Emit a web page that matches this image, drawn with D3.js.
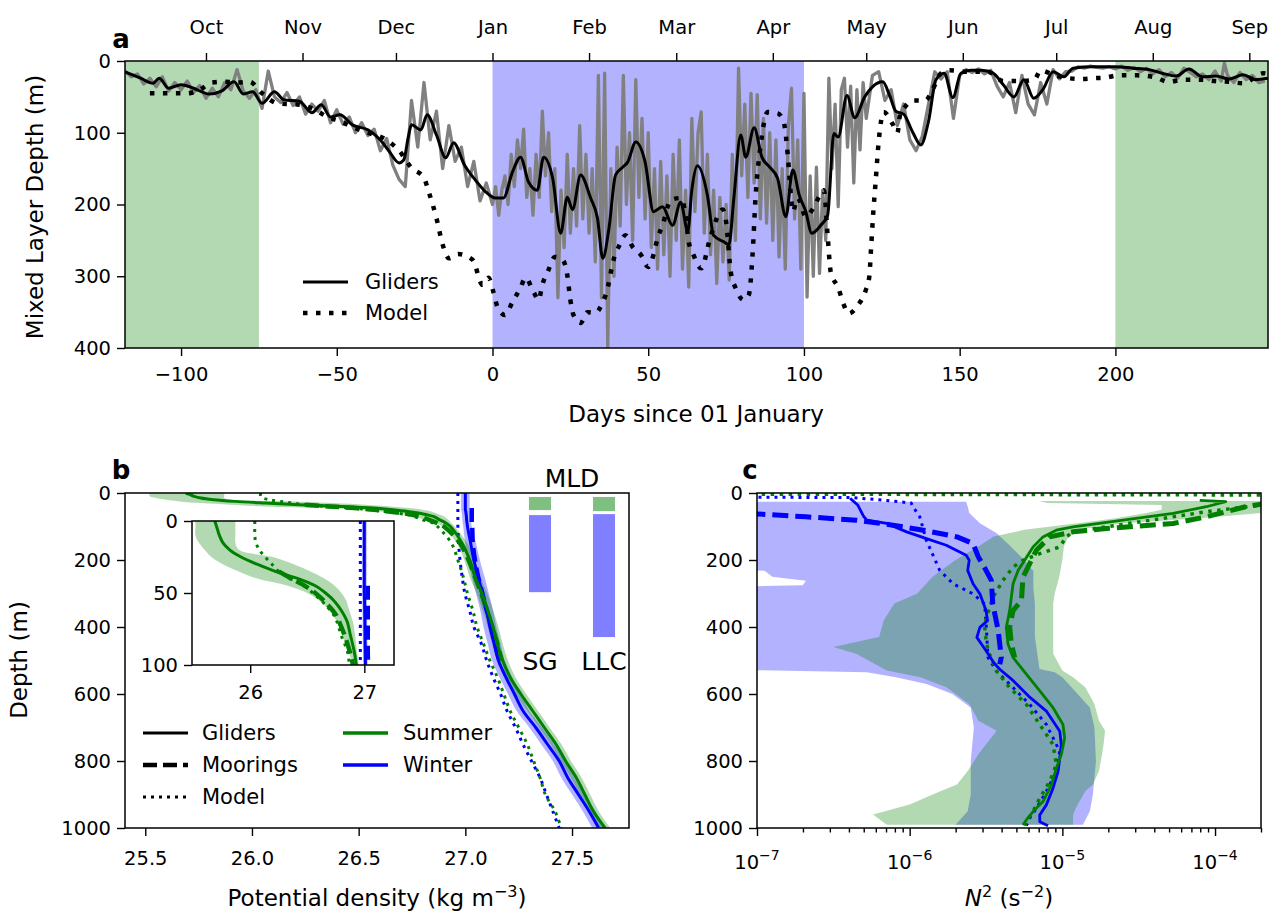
<!DOCTYPE html>
<html><head><meta charset="utf-8">
<script src="https://cdn.jsdelivr.net/npm/d3@7/dist/d3.min.js"></script>
<style>body{margin:0;background:#fff;} text{font-family:"DejaVu Sans",sans-serif;}</style>
</head><body>
<script>
// ---------------- DATA ----------------
// Panel a: mixed layer depth (m) vs days since 01 January
const monthDays = [-92,-61,-31,0,31,59,90,120,151,181,212,243];
const monthLabels = ['Oct','Nov','Dec','Jan','Feb','Mar','Apr','May','Jun','Jul','Aug','Sep'];
const summerSpans = [[-118,-75],[200,249]];
const winterSpans = [[0,100]];
const gliderRaw = [[-118,14],[-116,22],[-114,18],[-112,32],[-110,24],[-108,36],[-106,22],[-104,42],[-102,30],[-100,40],[-98,28],[-96,44],[-94,34],[-92,52],[-90,38],[-88,50],[-86,30],[-84,40],[-82,12],[-80,42],[-78,52],[-76,40],[-74,66],[-72,14],[-70,50],[-68,58],[-66,44],[-64,62],[-62,50],[-60,74],[-58,60],[-56,70],[-54,55],[-52,86],[-50,68],[-48,88],[-46,78],[-44,100],[-42,86],[-40,104],[-38,95],[-36,125],[-34,108],[-32,145],[-30,165],[-28,175],[-26,55],[-24,120],[-22,30],[-20,110],[-18,70],[-16,150],[-14,90],[-12,140],[-10,120],[-8,175],[-6,140],[-4,195],[-2,170],
[0,200],[1,175],[2,215],[3,180],[4,160],[5,200],[6,130],[7,175],[8,110],[9,150],[10,95],[11,190],[12,150],[13,215],[14,130],[15,190],[16,70],[17,160],[18,100],[19,210],[20,150],[21,330],[22,180],[23,260],[24,130],[25,240],[26,150],[27,230],[28,90],[29,220],[30,130],[31,240],[32,150],[33,280],[34,20],[35,330],[36,17],[37,398],[38,150],[39,300],[40,120],[41,230],[42,20],[43,200],[44,100],[45,250],[46,26],[47,190],[48,80],[49,220],[50,100],[51,260],[52,150],[53,290],[54,140],[55,270],[56,160],[57,300],[58,130],[59,250],[60,110],[61,290],[62,180],[63,315],[64,80],[65,210],[66,100],[67,71],[68,240],[69,130],[70,270],[71,180],[72,310],[73,190],[74,280],[75,200],[76,305],[77,130],[78,250],[79,10],[80,160],[81,60],[82,190],[83,45],[84,170],[85,47],[86,220],[87,80],[88,226],[89,100],[90,250],[91,110],[92,273],[93,150],[94,290],[95,90],[96,38],[97,220],[98,110],[99,290],[100,45],[101,329],[102,160],[103,300],[104,148],[105,296],[106,180],[107,250],[108,24],[109,150],[110,60],[111,203],[112,40],[113,24],[114,120],[115,35],[116,170],[117,40],[118,124],[119,30],[120,80],
[122,20],[124,15],[126,55],[128,40],[130,90],[132,60],[134,110],[136,125],[138,105],[140,60],[142,15],[144,25],[146,15],[148,80],[150,20],[152,12],[154,16],[156,11],[158,18],[160,13],[162,35],[164,50],[166,30],[168,72],[170,20],[172,60],[174,75],[176,30],[178,60],[180,12],[182,25],[184,15],[186,14],[188,8],[190,10],[192,7],[194,9],[196,10],[198,8],[200,11],[202,7],[204,13],[206,9],[208,15],[210,10],[212,18],[214,12],[216,22],[218,16],[220,24],[222,10],[224,16],[226,22],[228,18],[230,26],[232,14],[234,28],[235,3],[236,20],[238,30],[240,16],[242,26],[244,20],[246,30],[248,28]];
const gliderSmooth = [[-118,15],[-113,24],[-109,31],[-107,24],[-104,38],[-100,33],[-96,38],[-91,46],[-87,42],[-83,29],[-80,46],[-77,43],[-74,59],[-70,43],[-67,54],[-62,56],[-58,72],[-55,61],[-52,78],[-49,75],[-45,89],[-40,96],[-36,110],[-33,127],[-30,142],[-28.5,138],[-27,105],[-26,89],[-23,96],[-21,75],[-18,103],[-15,135],[-12.5,114],[-9,145],[-5.5,166],[-2.3,182],[1,191],[3.5,191],[6.4,155],[9,134],[11.6,169],[14.4,180],[16.4,134],[19.3,163],[21.9,240],[24,190],[25.7,207],[28.3,159],[31.5,191],[33.7,219],[35.4,275],[37.4,233],[39.5,159],[41.8,148],[43.4,141],[46,113],[49,141],[51.7,210],[54.6,203],[57.8,229],[60.4,197],[62.7,237],[64,180],[65.8,146],[69,187],[71,243],[74.3,252],[75.9,256],[77.5,191],[79.7,103],[81.3,134],[84,93],[86.5,134],[89,148],[91.5,163],[94.2,217],[96.4,152],[98.5,187],[100.6,210],[102.5,240],[105.4,229],[107.6,215],[109.6,101],[111,106],[113.8,48],[116.3,79],[119.5,50],[122,36],[125.3,29],[127.5,48],[129.5,70],[132,74],[135,100],[137.5,117],[140,84],[142.4,26],[145,17],[147.8,51],[150.4,17],[153.6,13],[157,13],[160.7,17],[164,33],[167.4,50],[170.6,26],[173.8,52],[176.7,40],[180,15],[183.5,22],[186.4,10],[192.8,8],[200,8],[205.6,10],[210.8,12],[215,17],[219.5,21],[223.6,11],[228,22],[232.3,21],[236.5,25],[241,19],[245,26],[249,24]];
const modelMLD = [[-110,45],[-104,45],[-98,45],[-94,40],[-90,30],[-86,29],[-82,30],[-78,29],[-74,45],[-69,59],[-62,61],[-57,68],[-53,78],[-49,84],[-45,92],[-40,100],[-34,110],[-30,125],[-26,149],[-22,163],[-20.5,182],[-18,219],[-16,256],[-14,275],[-11,269],[-6.4,277],[-3.2,312],[-1.3,302],[0.3,322],[1.6,343],[4,354],[6.4,336],[9,316],[10.6,302],[13.2,322],[14.8,333],[16,312],[18,291],[20,273],[22.5,277],[24,298],[25,333],[26,354],[28.3,365],[30.5,350],[33,351],[35.3,337],[37,316],[38,294],[39,275],[40.5,259],[42.7,243],[45,259],[47.6,270],[50,287],[51.7,270],[53,247],[54.6,229],[57.2,194],[60.4,191],[62,215],[63,252],[64.5,270],[67,289],[70,245],[73.9,207],[75,224],[76.5,294],[78,316],[80.7,333],[82.3,326],[83.5,270],[84.5,187],[86,121],[88.4,71],[91.6,73],[93.5,85],[94.8,131],[95.8,187],[96.4,210],[98,191],[100.6,217],[103,205],[105.4,185],[106.4,180],[107.6,243],[108.6,294],[111,316],[112.8,340],[114.4,352],[117.4,340],[119.8,320],[121,300],[121.5,265],[122.2,215],[123,169],[124,112],[125.6,71],[128.5,88],[130,100],[131,71],[132,66],[135,55],[139,55],[141.3,40],[144,17],[146.5,13],[152.5,15],[159,15],[164,28],[169.7,28],[174,26],[176,13],[180.5,20],[185,24],[189,25],[193,24],[197,23],[201,20],[207,20],[213,23],[217,29],[222,26],[228,26],[232,28],[236.5,29],[241,31],[247.5,17],[249,18]];

// Panel b: potential density (kg m-3) profiles vs depth (m)
const bDepth = [0,5,10,15,20,25,30,35,40,45,50,55,60,65,70,80,90,100,150,200,250,300,350,400,450,500,550,600,650,700,750,800,850,900,950,1000];
const summerGlider = [25.69,25.71,25.73,25.76,25.82,25.92,26.06,26.22,26.42,26.57,26.66,26.73,26.78,26.82,26.85,26.88,26.91,26.93,26.985,27.02,27.045,27.078,27.105,27.13,27.15,27.175,27.21,27.26,27.315,27.37,27.425,27.47,27.52,27.56,27.60,27.655];
const summerLo = [25.52,25.52,25.52,25.55,25.60,25.66,25.76,25.90,26.06,26.33,26.50,26.60,26.67,26.72,26.76,26.81,26.86,26.895,26.96,26.995,27.02,27.053,27.08,27.105,27.125,27.15,27.185,27.235,27.29,27.345,27.40,27.445,27.495,27.535,27.575,27.63];
const summerHi = [25.87,25.87,25.87,25.87,25.90,26.20,26.38,26.53,26.65,26.74,26.80,26.84,26.86,26.88,26.90,26.92,26.935,26.95,27.01,27.045,27.07,27.103,27.13,27.155,27.175,27.20,27.235,27.285,27.34,27.395,27.45,27.495,27.545,27.585,27.625,27.68];
const summerModel = [26.04,26.04,26.04,26.05,26.08,26.13,26.19,26.25,26.35,26.47,26.55,26.62,26.68,26.73,26.76,26.80,26.85,26.87,26.935,26.965,26.99,27.01,27.035,27.055,27.085,27.115,27.15,27.18,27.21,27.25,27.29,27.32,27.35,27.375,27.42,27.45];
const winterGlider = [27.0,27.0,27.0,27.0,27.0,27.0,27.0,27.0,27.0,27.0,27.0,27.002,27.003,27.004,27.005,27.006,27.008,27.01,27.025,27.04,27.06,27.08,27.10,27.115,27.135,27.155,27.19,27.23,27.27,27.33,27.385,27.44,27.48,27.53,27.58,27.625];
const winterLo = [26.98,26.98,26.98,26.98,26.98,26.98,26.98,26.98,26.98,26.98,26.98,26.982,26.983,26.984,26.985,26.986,26.988,26.99,27.0,27.012,27.03,27.05,27.07,27.085,27.105,27.125,27.16,27.20,27.24,27.30,27.355,27.41,27.45,27.50,27.55,27.595];
const winterHi = [27.02,27.02,27.02,27.02,27.02,27.02,27.02,27.02,27.02,27.02,27.02,27.022,27.023,27.024,27.025,27.026,27.028,27.03,27.05,27.068,27.09,27.11,27.13,27.145,27.165,27.185,27.22,27.26,27.30,27.36,27.415,27.47,27.51,27.56,27.61,27.655];
const winterModel = [26.965,26.965,26.965,26.965,26.965,26.965,26.965,26.965,26.965,26.965,26.965,26.965,26.965,26.965,26.965,26.965,26.965,26.965,26.968,26.975,26.985,26.998,27.02,27.04,27.075,27.10,27.13,27.165,27.195,27.235,27.27,27.31,27.35,27.38,27.41,27.44];
const summerMooringDepth = [35,40,45,50,55,60,65,70,80,90,100,150,200,250,300,350,400,450,500];
const summerMooring = [26.25,26.36,26.48,26.57,26.64,26.70,26.75,26.78,26.83,26.87,26.90,26.975,27.015,27.045,27.075,27.10,27.125,27.15,27.17];
const winterMooringDepth = [45,50,55,60,65,70,80,90,100,150,200,250,300,350,400,450,500];
const winterMooring = [27.03,27.03,27.03,27.03,27.03,27.03,27.03,27.03,27.032,27.035,27.045,27.06,27.08,27.10,27.125,27.14,27.16];
// MLD bars (depth range, m)
const mldSites = ['SG','LLC'];
const mldSummer = [[12,51],[12,54]];
const mldWinter = [[66,296],[63,430]];

// Panel c: log10 N^2 (s^-2) profiles vs depth (m)
const cWGDepth = [16,36,71,81,91,116,136,156,186,201,231,271,301,351,381,401,431,471,506,526,561,611,651,711,751,791,831,881,931,961,981,993];
const cWG = [-6.39,-6.34,-6.30,-6.28,-6.15,-6.02,-5.89,-5.76,-5.63,-5.61,-5.62,-5.585,-5.54,-5.50,-5.49,-5.54,-5.56,-5.50,-5.45,-5.41,-5.32,-5.21,-5.105,-5.017,-5.007,-5.017,-5.028,-5.061,-5.105,-5.148,-5.148,-5.094];
const cWMDepth = [61,71,81,96,111,131,151,191,231,261,331,411,491,511];
const cWM = [-7.05,-6.68,-6.35,-6.11,-5.91,-5.69,-5.585,-5.55,-5.50,-5.465,-5.456,-5.42,-5.40,-5.41];
const cWLDepth = [12.5,13.5,20,30,41,71,141,231,271,301,331,401,491,531,581,631,691,771,831,891,941,971,993];
const cWL = [-7.2,-6.39,-6.2,-5.99,-5.978,-5.934,-5.891,-5.803,-5.716,-5.585,-5.509,-5.498,-5.487,-5.432,-5.323,-5.214,-5.105,-5.017,-5.039,-5.105,-5.17,-5.214,-5.236];
const cSGDepth = [22,26,41,61,81,101,111,131,161,201,231,271,311,351,401,451,491,541,591,641,691,731,781,821,871,921,951,976,991];
const cSG = [-4.1,-3.93,-4.057,-4.275,-4.603,-4.93,-5.04,-5.127,-5.192,-5.247,-5.29,-5.323,-5.334,-5.345,-5.367,-5.356,-5.323,-5.236,-5.148,-5.061,-4.996,-4.985,-5.007,-5.039,-5.072,-5.127,-5.192,-5.236,-5.258];
const cSMDepth = [30,41,71,91,106,116,131,171,211,251,321,351,401,451,491];
const cSM = [-3.65,-3.80,-4.057,-4.275,-4.71,-4.93,-5.083,-5.17,-5.214,-5.258,-5.268,-5.323,-5.345,-5.334,-5.312];
const cSLDepth = [3,6,31,46,56,71,101,116,131,161,181,201,221,261,311,371,411,471,531,581,631,691,751,811,861,911,951,981,993];
const cSL = [-7.5,-3.5,-3.6,-3.88,-4.057,-4.275,-4.71,-4.93,-4.974,-5.017,-5.148,-5.258,-5.323,-5.389,-5.454,-5.498,-5.509,-5.487,-5.432,-5.345,-5.236,-5.148,-5.061,-5.039,-5.083,-5.148,-5.192,-5.236,-5.247];
const cWBandDepth = [26,40,60,90,120,150,200,228,232,250,262,275,283,330,430,525,535,550,570,600,640,700,800,900,950,990];
const cWBandLo = [-7.5,-7.5,-7.5,-7.5,-7.5,-7.5,-7.5,-7.5,-6.95,-6.9,-6.68,-6.7,-7.5,-7.5,-7.5,-7.5,-6.28,-6.09,-5.89,-5.72,-5.6,-5.58,-5.6,-5.6,-5.62,-5.7];
const cWBandHi = [-5.63,-5.62,-5.61,-5.54,-5.43,-5.36,-5.25,-5.2,-5.19,-5.19,-5.19,-5.19,-5.19,-5.18,-5.18,-5.15,-5.05,-5.0,-4.96,-4.9,-4.82,-4.79,-4.78,-4.8,-4.82,-4.865];
const cSBandDepth = [24,30,36,50,60,75,90,110,130,160,200,250,300,330,380,430,460,480,530,550,580,630,680,710,750,780,830,870,890,930,960,990];
const cSBandLo = [-5.15,-5.1,-4.35,-4.35,-4.45,-4.65,-4.9,-5.25,-5.45,-5.55,-5.7,-5.85,-5.95,-6.1,-6.17,-6.2,-6.5,-6.35,-6.15,-5.93,-5.76,-5.61,-5.55,-5.43,-5.5,-5.55,-5.62,-5.69,-5.8,-6.0,-6.24,-6.15];
const cSBandHi = [-3.7,-3.66,-3.66,-3.66,-3.7,-4.1,-4.6,-4.9,-4.96,-4.99,-5.0,-5.02,-5.05,-5.06,-5.06,-5.06,-5.06,-5.06,-5.0,-4.93,-4.85,-4.79,-4.76,-4.72,-4.73,-4.74,-4.76,-4.8,-4.85,-4.9,-4.93,-4.93];

// ---------------- DRAWING ----------------
const FONT = 'DejaVu Sans';
const TICKFS = 19.5, LABFS = 23, LEGFS = 21;
const GREEN = '#008000', BLUE = '#0000ff';
const svg = d3.select('body').append('svg').attr('width',1275).attr('height',912);
const defs = svg.append('defs');
function clip(id, P){ defs.append('clipPath').attr('id',id).append('rect').attr('x',P.l).attr('y',P.t).attr('width',P.r-P.l).attr('height',P.b-P.t); }
function styleAxis(g, fs){
  g.attr('font-family',FONT).attr('font-size',fs||TICKFS);
  g.select('.domain').remove();
  g.selectAll('.tick line').attr('stroke','#000').attr('stroke-width',1.4);
  g.selectAll('.tick text').attr('fill','#000');
}
function spine(P){ svg.append('rect').attr('x',P.l).attr('y',P.t).attr('width',P.r-P.l).attr('height',P.b-P.t).attr('fill','none').attr('stroke','#000').attr('stroke-width',1.5); }
function txt(x,y,s,opt){ opt=opt||{}; const t=svg.append('text').attr('x',x).attr('y',y).attr('font-family',FONT).attr('font-size',opt.fs||LABFS).attr('text-anchor',opt.anchor||'middle').attr('fill','#000').text(s); if(opt.bold) t.attr('font-weight','bold'); if(opt.rot) t.attr('transform',`rotate(${opt.rot},${x},${y})`); return t; }
const fmtInt = d3.format('d');

// ===== Panel a =====
const A = {l:125, r:1268, t:61, b:348};
const xA = d3.scaleLinear().domain([-118,249]).range([A.l,A.r]);
const yA = d3.scaleLinear().domain([0,400]).range([A.t,A.b]);
clip('clipA',A);
const pA = svg.append('g').attr('clip-path','url(#clipA)');
summerSpans.forEach(s=>pA.append('rect').attr('x',xA(s[0])).attr('width',xA(s[1])-xA(s[0])).attr('y',yA(0)).attr('height',yA(400)-yA(0)).attr('fill',GREEN).attr('fill-opacity',0.3));
winterSpans.forEach(s=>pA.append('rect').attr('x',xA(s[0])).attr('width',xA(s[1])-xA(s[0])).attr('y',yA(0)).attr('height',yA(400)-yA(0)).attr('fill',BLUE).attr('fill-opacity',0.3));
const lineA = d3.line().x(d=>xA(d[0])).y(d=>yA(d[1]));
pA.append('path').attr('d',lineA(gliderRaw)).attr('fill','none').attr('stroke','#808080').attr('stroke-width',3.3).attr('stroke-linejoin','round');
pA.append('path').attr('d',lineA.curve(d3.curveMonotoneX)(gliderSmooth)).attr('fill','none').attr('stroke','#000').attr('stroke-width',3);
pA.append('path').attr('d',lineA.curve(d3.curveMonotoneX)(modelMLD)).attr('fill','none').attr('stroke','#000').attr('stroke-width',4.5).attr('stroke-dasharray','4.5,8.5');
styleAxis(svg.append('g').attr('transform',`translate(0,${A.b})`).call(d3.axisBottom(xA).tickValues([-100,-50,0,50,100,150,200]).tickSize(8).tickPadding(11)));
styleAxis(svg.append('g').attr('transform',`translate(0,${A.t})`).call(d3.axisTop(xA).tickValues(monthDays).tickFormat((d,i)=>monthLabels[i]).tickSize(8).tickPadding(19)));
styleAxis(svg.append('g').attr('transform',`translate(${A.l},0)`).call(d3.axisLeft(yA).tickValues([0,100,200,300,400]).tickSize(8).tickPadding(6)));
spine(A);
// legend a
const legA = [{lab:'Gliders',dash:null,w:3},{lab:'Model',dash:'4.5,8.5',w:4.5}];
legA.forEach((e,i)=>{ const y=282+i*31; const l=svg.append('line').attr('x1',303).attr('x2',348).attr('y1',y).attr('y2',y).attr('stroke','#000').attr('stroke-width',e.w); if(e.dash) l.attr('stroke-dasharray',e.dash); txt(365,y+7,e.lab,{anchor:'start',fs:LEGFS}); });
txt(696,422,'Days since 01 January');
txt(43,207,'Mixed Layer Depth (m)',{rot:-90});
txt(121,48,'a',{bold:true,fs:26});

// ===== Panel b =====
const B = {l:125, r:629, t:493, b:828};
const xB = d3.scaleLinear().domain([25.405,27.767]).range([B.l,B.r]);
const yB = d3.scaleLinear().domain([0,1000]).range([B.t,B.b]);
clip('clipB',B);
const pB = svg.append('g').attr('clip-path','url(#clipB)');
function profiles(g, xs, ys){
  const rows = (arr)=>bDepth.map((z,i)=>[z,arr[i]]);
  const band = (lo,hi)=>bDepth.map((z,i)=>({z,lo:lo[i],hi:hi[i]}));
  const area = d3.area().curve(d3.curveCatmullRom).y(d=>ys(d.z)).x0(d=>xs(d.lo)).x1(d=>xs(d.hi));
  const line = d3.line().curve(d3.curveCatmullRom).x(d=>xs(d[1])).y(d=>ys(d[0]));
  g.append('path').attr('d',area(band(winterLo,winterHi))).attr('fill',BLUE).attr('fill-opacity',0.3);
  g.append('path').attr('d',area(band(summerLo,summerHi))).attr('fill',GREEN).attr('fill-opacity',0.3);
  const draw=(data,col,w,dash)=>{const p=g.append('path').attr('d',line(data)).attr('fill','none').attr('stroke',col).attr('stroke-width',w); if(dash) p.attr('stroke-dasharray',dash);};
  draw(rows(winterModel),BLUE,3,'3,5');
  draw(rows(summerModel),GREEN,3,'3,5');
  draw(winterMooringDepth.map((z,i)=>[z,winterMooring[i]]),BLUE,4.5,'14,6');
  draw(summerMooringDepth.map((z,i)=>[z,summerMooring[i]]),GREEN,4.5,'14,6');
  draw(rows(winterGlider),BLUE,3);
  draw(rows(summerGlider),GREEN,3);
}
profiles(pB, xB, yB);
// MLD bars
const xBar = d3.scaleBand().domain(mldSites).range([508,636]).paddingInner(0.656).paddingOuter(0.328);
mldSites.forEach((s,i)=>{
  svg.append('rect').attr('x',xBar(s)).attr('width',xBar.bandwidth()).attr('y',yB(mldSummer[i][0])).attr('height',yB(mldSummer[i][1])-yB(mldSummer[i][0])).attr('fill',GREEN).attr('fill-opacity',0.5);
  svg.append('rect').attr('x',xBar(s)).attr('width',xBar.bandwidth()).attr('y',yB(mldWinter[i][0])).attr('height',yB(mldWinter[i][1])-yB(mldWinter[i][0])).attr('fill',BLUE).attr('fill-opacity',0.5);
  txt(xBar(s)+xBar.bandwidth()/2,670,s,{fs:25});
});
txt(572,487,'MLD',{fs:25});
// inset
const I = {l:192, r:394, t:521, b:665};
const xI = d3.scaleLinear().domain([25.49,27.26]).range([I.l,I.r]);
const yI = d3.scaleLinear().domain([0,100]).range([I.t,I.b]);
svg.append('rect').attr('x',I.l).attr('y',I.t).attr('width',I.r-I.l).attr('height',I.b-I.t).attr('fill','#fff');
clip('clipI',I);
const pI = svg.append('g').attr('clip-path','url(#clipI)');
profiles(pI, xI, yI);
styleAxis(svg.append('g').attr('transform',`translate(0,${I.b})`).call(d3.axisBottom(xI).tickValues([26,27]).tickFormat(fmtInt).tickSize(8).tickPadding(12)));
styleAxis(svg.append('g').attr('transform',`translate(${I.l},0)`).call(d3.axisLeft(yI).tickValues([0,50,100]).tickFormat(fmtInt).tickSize(8).tickPadding(6)));
spine(I);
styleAxis(svg.append('g').attr('transform',`translate(0,${B.b})`).call(d3.axisBottom(xB).tickValues([25.5,26,26.5,27,27.5]).tickFormat(d3.format('.1f')).tickSize(8).tickPadding(15)));
styleAxis(svg.append('g').attr('transform',`translate(${B.l},0)`).call(d3.axisLeft(yB).tickValues([0,200,400,600,800,1000]).tickFormat(fmtInt).tickSize(8).tickPadding(6)));
spine(B);
// legend b
const legB1 = [{lab:'Gliders',dash:null,w:3},{lab:'Moorings',dash:'14,6',w:4.5},{lab:'Model',dash:'3,5',w:3}];
legB1.forEach((e,i)=>{ const y=733+i*32; const l=svg.append('line').attr('x1',143).attr('x2',188).attr('y1',y).attr('y2',y).attr('stroke','#000').attr('stroke-width',e.w); if(e.dash) l.attr('stroke-dasharray',e.dash); txt(202,y+7,e.lab,{anchor:'start',fs:LEGFS}); });
const legB2 = [{lab:'Summer',col:GREEN},{lab:'Winter',col:BLUE}];
legB2.forEach((e,i)=>{ const y=733+i*32; svg.append('line').attr('x1',343).attr('x2',388).attr('y1',y).attr('y2',y).attr('stroke',e.col).attr('stroke-width',3.5); txt(403,y+7,e.lab,{anchor:'start',fs:LEGFS}); });
const pdl = txt(377,906,'Potential density (kg m');
pdl.append('tspan').attr('dy',-9).attr('font-size',16).text('−3');
pdl.append('tspan').attr('dy',9).text(')');
txt(27,660,'Depth (m)',{rot:-90});
txt(121,479,'b',{bold:true,fs:26});

// ===== Panel c =====
const C = {l:757, r:1261, t:493, b:828};
const xC = d3.scaleLog().domain([1e-7,2e-4]).range([C.l,C.r]);
const yC = d3.scaleLinear().domain([0,1000]).range([C.t,C.b]);
clip('clipC',C);
const pC = svg.append('g').attr('clip-path','url(#clipC)');
const p10 = v=>Math.pow(10,v);
const areaC = d3.area().y(d=>yC(d.z)).x0(d=>xC(p10(d.lo))).x1(d=>xC(p10(d.hi)));
pC.append('path').attr('d',areaC(cWBandDepth.map((z,i)=>({z,lo:cWBandLo[i],hi:cWBandHi[i]})))).attr('fill',BLUE).attr('fill-opacity',0.3);
pC.append('path').attr('d',areaC(cSBandDepth.map((z,i)=>({z,lo:cSBandLo[i],hi:cSBandHi[i]})))).attr('fill',GREEN).attr('fill-opacity',0.3);
const lineC = d3.line().x(d=>xC(p10(d[1]))).y(d=>yC(d[0]));
const drawC=(dep,val,col,w,dash)=>{const p=pC.append('path').attr('d',lineC(dep.map((z,i)=>[z,val[i]]))).attr('fill','none').attr('stroke',col).attr('stroke-width',w).attr('stroke-linejoin','round'); if(dash) p.attr('stroke-dasharray',dash);};
drawC(cWLDepth,cWL,BLUE,3,'3,5');
drawC(cSLDepth,cSL,GREEN,3.5,'3.5,5.5');
drawC(cWMDepth,cWM,BLUE,5,'16,7');
drawC(cSMDepth,cSM,GREEN,5,'16,7');
drawC(cWGDepth,cWG,BLUE,2.8);
drawC(cSGDepth,cSG,GREEN,2.8);
const minorC = [];
[-7,-6,-5,-4].forEach(e=>{ for(let k=2;k<10;k++){ const v=k*Math.pow(10,e); if(v<=2e-4) minorC.push(v);} });
styleAxis(svg.append('g').attr('transform',`translate(0,${C.b})`).call(d3.axisBottom(xC).tickValues(minorC).tickFormat('').tickSize(4.5)));
styleAxis(svg.append('g').attr('transform',`translate(0,${C.b})`).call(d3.axisBottom(xC).tickValues([1e-7,1e-6,1e-5,1e-4]).tickFormat('').tickSize(8)));
[-7,-6,-5,-4].forEach(e=>{ const t=txt(xC(Math.pow(10,e)),869,'10',{fs:TICKFS}); t.append('tspan').attr('dy',-9).attr('font-size',14).text('−'+Math.abs(e)); });
styleAxis(svg.append('g').attr('transform',`translate(${C.l},0)`).call(d3.axisLeft(yC).tickValues([0,200,400,600,800,1000]).tickFormat(fmtInt).tickSize(8).tickPadding(6)));
spine(C);
const nl = svg.append('text').attr('x',1009).attr('y',906).attr('text-anchor','middle').attr('font-family',FONT).attr('font-size',LABFS);
nl.append('tspan').attr('font-style','italic').text('N');
nl.append('tspan').attr('dy',-9).attr('font-size',16).text('2');
nl.append('tspan').attr('dy',9).text(' (s');
nl.append('tspan').attr('dy',-9).attr('font-size',16).text('−2');
nl.append('tspan').attr('dy',9).text(')');
txt(750,479,'c',{bold:true,fs:26});
</script>
</body></html>
